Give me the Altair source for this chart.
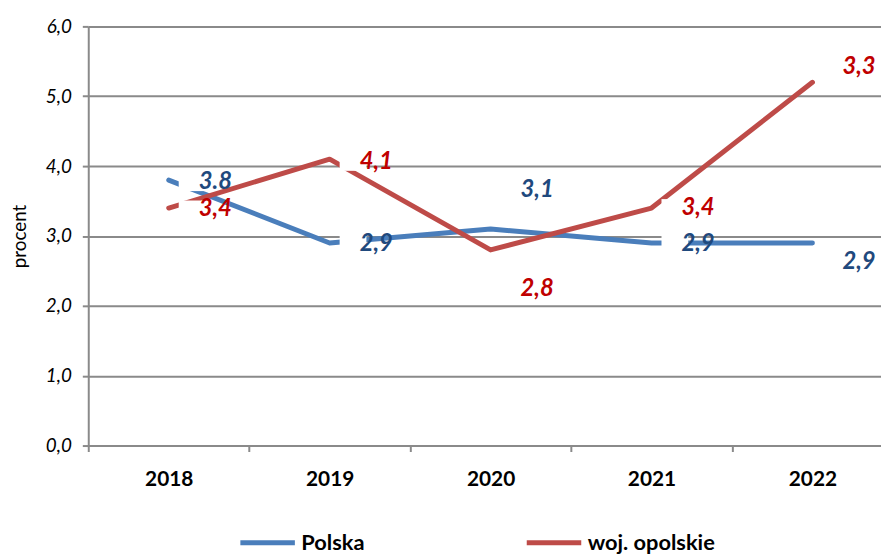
import altair as alt
import pandas as pd

years = ["2018", "2019", "2020", "2021", "2022"]
polska = [3.8, 2.9, 3.1, 2.9, 2.9]
opolskie = [3.4, 4.1, 2.8, 3.4, 5.2]
polska_labels = ["3.8", "2,9", "3,1", "2,9", "2,9"]
opolskie_labels = ["3,4", "4,1", "2,8", "3,4", "3,3"]
polska_label_pos = [3.77, 2.89, 3.65, 2.89, 2.62]
opolskie_label_pos = [3.38, 4.06, 2.24, 3.40, 5.42]
series = ["Polska", "woj. opolskie"]
colors = ["#4a7ebb", "#be4b48"]
label_colors = ["#1f497d", "#c00000"]

rows = []
for i, y in enumerate(years):
    rows.append({"year": y, "series": series[0], "value": polska[i],
                 "label": polska_labels[i], "lpos": polska_label_pos[i], "lc": label_colors[0]})
for i, y in enumerate(years):
    rows.append({"year": y, "series": series[1], "value": opolskie[i],
                 "label": opolskie_labels[i], "lpos": opolskie_label_pos[i], "lc": label_colors[1]})
df = pd.DataFrame(rows)

FONT = "Lato"
GRID = "#8a8a8a"
xscale = alt.Scale(paddingInner=0, paddingOuter=0, range=[0, 812])
xenc = alt.X("year:O", title=None, sort=years, scale=xscale,
             axis=alt.Axis(labelAngle=0, labelFont=FONT, labelFontWeight="bold",
                           labelFontSize=21, labelColor="#000", labelPadding=17,
                           tickBand="extent", tickSize=6, tickColor=GRID,
                           domainColor=GRID, domainWidth=2, tickWidth=2, grid=False))
yscale = alt.Scale(domain=[0, 6], nice=False, zero=True)
yaxis = alt.Axis(values=[0, 1, 2, 3, 4, 5, 6], labelExpr="replace(format(datum.value, '.1f'), '.', ',')",
                 labelFont=FONT, labelFontStyle="italic", labelFontSize=19, labelColor="#000",
                 labelPadding=11, tickSize=6, tickColor=GRID, tickWidth=2,
                 domainColor=GRID, domainWidth=2, gridColor=GRID, gridWidth=2,
                 title="procent", titleFont=FONT, titleFontWeight="normal", titleFontSize=19,
                 titleColor="#000", titlePadding=16)

lines = alt.Chart(df).mark_line(strokeWidth=5, strokeCap="round", strokeJoin="round").encode(
    x=xenc,
    y=alt.Y("value:Q", scale=yscale, axis=yaxis),
    color=alt.Color("series:N", scale=alt.Scale(domain=series, range=colors),
                    legend=alt.Legend(title=None, orient="none", direction="horizontal",
                                      legendX=151, legendY=491, symbolType="stroke",
                                      symbolSize=3025, symbolStrokeWidth=5,
                                      labelFont=FONT, labelFontWeight="bold", labelFontSize=22,
                                      labelColor="#000", columnPadding=153, labelOffset=4,
                                      labelLimit=300)),
    detail="series:N",
)

# white label background, drawn to the right of each point (path in symbol units)
box_shape = "M0.56,-0.5L2.06,-0.5L2.06,0.5L0.56,0.5Z"
boxes = alt.Chart(df).mark_point(shape=box_shape, filled=True, fill="white", opacity=1,
                                 strokeWidth=0, size=1296).encode(
    x=alt.X("year:O", sort=years, scale=xscale),
    y=alt.Y("lpos:Q", scale=yscale),
)

labels = alt.Chart(df).mark_text(font=FONT, fontStyle="italic", fontWeight="bold",
                                 fontSize=24, dx=47, baseline="middle", align="center").encode(
    x=alt.X("year:O", sort=years, scale=xscale),
    y=alt.Y("lpos:Q", scale=yscale),
    text="label:N",
    color=alt.Color("lc:N", scale=None),
)

chart = alt.layer(lines, boxes, labels).resolve_scale(color="independent").properties(
    width=800, height=423,
    autosize=alt.AutoSizeParams(type="none"),
    padding={"left": 81, "top": 16, "right": 0, "bottom": 120},
).configure_view(stroke=None)

chart.save("out.html", embed_options={"renderer": "svg", "actions": False})
